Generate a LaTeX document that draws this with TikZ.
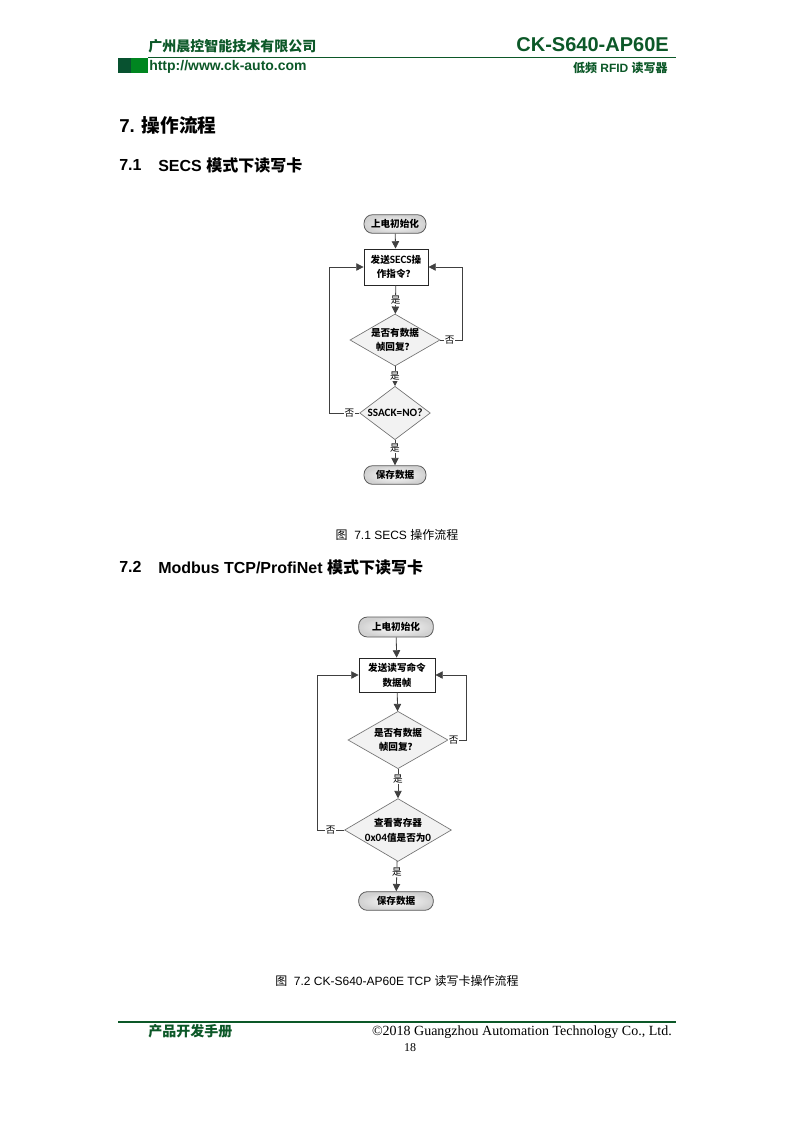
\documentclass[tikz,border=0pt]{standalone}
\usepackage{fontspec}
\usepackage{xcolor}
\setmainfont{Liberation Sans}
\newfontfamily\cjkfont{Noto Sans CJK SC}
\newfontfamily\calfont{Carlito}
\newfontfamily\timesfont{Liberation Serif}
\usepackage{tikz}
\usetikzlibrary{arrows.meta,shapes.geometric}

\definecolor{ckgreen}{RGB}{12,88,40}
\definecolor{barDark}{RGB}{8,82,48}
\definecolor{barLight}{RGB}{0,134,32}
\newcommand{\chartfont}{\cjkfont\bfseries\fontsize{7.2}{11}\selectfont}
\newcommand{\latinpart}[1]{{\calfont\fontsize{8.4}{11}\selectfont #1}}

\tikzset{
  startstop/.style={draw=black!65, line width=0.6pt, rounded corners=6.5pt, inner color=white, outer color=black!18, minimum height=14pt, inner sep=1pt, font=\chartfont},
  process/.style={draw=black!85, line width=0.6pt, fill=white, align=center, inner sep=1pt, font=\chartfont},
  decision/.style={diamond, draw=black!55, line width=0.5pt, fill=black!5, aspect=1.7, inner sep=0pt, align=center, font=\chartfont},
  flowarrow/.style={draw=black!75, line width=0.6pt, -{Triangle[length=5.5pt,width=5.5pt]}},
  yesno/.style={fill=white, inner sep=0.6pt, font=\cjkfont\fontsize{7.2}{8}\selectfont}
}

\begin{document}
\begin{tikzpicture}[x=0.75pt,y=0.75pt,yscale=-1,xscale=1]
\useasboundingbox (0,0) rectangle (793,1122);

%Header
\fill [barDark] (118,58) rectangle (131,73) ;
\fill [barLight] (131,58) rectangle (148,73) ;
\draw [ckgreen, line width=1.1pt] (148,57.5) -- (676,57.5) ;
% Text Node
\draw (148,46) node (company) [anchor=west, inner sep=0pt, text=ckgreen, font=\cjkfont\bfseries\fontsize{10.5}{12}\selectfont] {广州晨控智能技术有限公司};
% Text Node
\draw (669,45) node (model) [anchor=east, inner sep=0pt, text=ckgreen, font=\bfseries\fontsize{15}{17}\selectfont] {CK-S640-AP60E};
% Text Node
\draw (149,67) node (website) [anchor=west, inner sep=0pt, text=ckgreen, font=\bfseries\fontsize{10.5}{12}\selectfont] {http://www.ck-auto.com};
% Text Node
\draw (668,68) node (product) [anchor=east, inner sep=0pt, text=ckgreen, font=\bfseries\fontsize{9}{10}\selectfont] {{\cjkfont 低频} RFID {\cjkfont 读写器}};

%Headings
\draw (119,125) node (sec7) [anchor=west, inner sep=0pt, font=\bfseries\fontsize{14}{16}\selectfont] {7. {\cjkfont 操作流程}};
\draw (119,165) node (sec71num) [anchor=west, inner sep=0pt, font=\bfseries\fontsize{12}{14}\selectfont] {7.1};
\draw (158,165) node (sec71) [anchor=west, inner sep=0pt, font=\bfseries\fontsize{12}{14}\selectfont] {SECS {\cjkfont 模式下读写卡}};

%Flowchart 7.1
\draw (395,224) node (initA) [startstop, minimum width=46.5pt] {上电初始化};
\draw (396,267) node (sendA) [process, minimum width=48pt, minimum height=27pt] {发送\latinpart{SECS}操\\作指令？};
\draw (395,340) node (replyA) [decision, minimum width=67.5pt, minimum height=39pt] {是否有数据\\帧回复？};
\draw (395,413) node (ackA) [decision, minimum width=53pt, minimum height=40pt] {\latinpart{SSACK=NO?}};
\draw (395,475) node (saveA) [startstop, minimum width=46.5pt] {保存数据};

\draw [flowarrow] (initA) -- (sendA) ;
\draw [flowarrow] (sendA) -- (replyA) node [yesno, midway] {是};
\draw [flowarrow] (replyA) -- (ackA) node [yesno, midway] {是};
\draw [flowarrow] (ackA) -- (saveA) node [yesno, pos=0.3] {是};
\draw [flowarrow] (replyA.east) -- ++(22,0) node [yesno, pos=0.42] {否} |- (sendA.east) ;
\draw [flowarrow] (ackA.west) -- ++(-30,0) node [yesno, pos=0.33] {否} |- (sendA.west) ;

% Text Node
\draw (397,535) node (capA) [inner sep=0pt, font=\fontsize{9}{10}\selectfont] {{\cjkfont 图}\ \ 7.1 SECS {\cjkfont 操作流程}};

\draw (119,567) node (sec72num) [anchor=west, inner sep=0pt, font=\bfseries\fontsize{12}{14}\selectfont] {7.2};
\draw (158,567) node (sec72) [anchor=west, inner sep=0pt, font=\bfseries\fontsize{12}{14}\selectfont] {Modbus TCP/ProfiNet {\cjkfont 模式下读写卡}};

%Flowchart 7.2
\draw (396,627) node (initB) [startstop, minimum width=56pt, minimum height=15pt] {上电初始化};
\draw (397,675) node (sendB) [process, minimum width=57pt, minimum height=25.5pt] {发送读写命令\\数据帧};
\draw (398,740) node (replyB) [decision, minimum width=75pt, minimum height=43pt] {是否有数据\\帧回复？};
\draw (398,830) node (checkB) [decision, minimum width=75pt, minimum height=44pt] {查看寄存器\\\latinpart{0x04}值是否为\latinpart{0}};
\draw (396,901) node (saveB) [startstop, minimum width=56pt, minimum height=14pt] {保存数据};

\draw [flowarrow] (initB) -- (sendB) ;
\draw [flowarrow] (sendB) -- (replyB) ;
\draw [flowarrow] (replyB) -- (checkB) node [yesno, pos=0.33] {是};
\draw [flowarrow] (checkB) -- (saveB) node [yesno, pos=0.37] {是};
\draw [flowarrow] (replyB.east) -- ++(18,0) node [yesno, pos=0.3] {否} |- (sendB.east) ;
\draw [flowarrow] (checkB.west) -- ++(-27,0) node [yesno, pos=0.5] {否} |- (sendB.west) ;

% Text Node
\draw (397,981) node (capB) [inner sep=0pt, font=\fontsize{9}{10}\selectfont] {{\cjkfont 图}\ \ 7.2 CK-S640-AP60E TCP {\cjkfont 读写卡操作流程}};

%Footer
\draw [ckgreen, line width=1.1pt] (118,1022) -- (676,1022) ;
\draw (148,1031) node (manual) [anchor=west, inner sep=0pt, text=ckgreen, font=\cjkfont\bfseries\fontsize{10.5}{12}\selectfont] {产品开发手册};
\draw (672,1032) node (copyright) [anchor=east, inner sep=0pt, font=\timesfont\fontsize{10.5}{12}\selectfont] {\textcopyright2018 Guangzhou Automation Technology Co., Ltd.};
\draw (410,1048) node (pagenum) [inner sep=0pt, font=\timesfont\fontsize{9}{10}\selectfont] {18};

\end{tikzpicture}
\end{document}
